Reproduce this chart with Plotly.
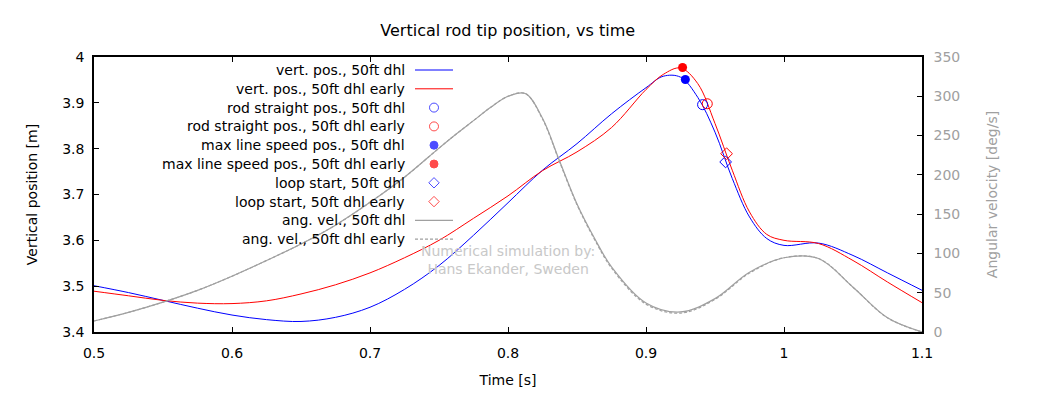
import plotly.graph_objects as go

# ---------------- data ----------------
t_pos = [0.500, 0.525, 0.550, 0.575, 0.600, 0.625, 0.650, 0.675, 0.700, 0.725, 0.750, 0.775,
         0.800, 0.825, 0.850, 0.875, 0.900, 0.9125, 0.925, 0.9375, 0.950, 0.9625, 0.975,
         0.9875, 1.000, 1.025, 1.050, 1.075, 1.100]
y_blue = [3.501, 3.486, 3.469, 3.452, 3.437, 3.427, 3.423, 3.432, 3.454, 3.493, 3.545, 3.611,
          3.682, 3.753, 3.811, 3.876, 3.933, 3.958, 3.956, 3.912, 3.836, 3.735, 3.651,
          3.604, 3.589, 3.594, 3.567, 3.529, 3.491]
y_red = [3.489, 3.479, 3.469, 3.463, 3.462, 3.468, 3.483, 3.503, 3.529, 3.562, 3.600, 3.648,
         3.697, 3.752, 3.793, 3.846, 3.929, 3.962, 3.976, 3.942, 3.855, 3.753, 3.662,
         3.613, 3.600, 3.593, 3.556, 3.509, 3.464]

t_ang = [0.500, 0.525, 0.550, 0.575, 0.600, 0.625, 0.650, 0.675, 0.700, 0.725, 0.750, 0.7625,
         0.775, 0.7875, 0.800, 0.8125, 0.825, 0.8375, 0.850, 0.8625, 0.875, 0.900, 0.925, 0.950,
         0.975, 1.000, 1.025, 1.050, 1.075, 1.100]
ang_blue = [14, 25, 38, 53, 71, 91, 112, 136, 165, 197, 234, 252,
            269, 286, 300, 303.5, 272, 217, 163, 120, 83, 37, 25.5, 42.5,
            76, 94.5, 93.5, 57, 18, 0]
ang_red = [14, 25, 38, 53, 71, 91, 112, 136, 165, 197, 234, 252,
           269, 286, 300, 303.5, 271, 216, 162, 118.5, 81.5, 35.5, 24, 41.5,
           75, 94.5, 93.5, 57, 18, 0]

rod_straight_t = [0.941, 0.9444]
rod_straight_y = [3.896, 3.898]
max_speed_t = [0.9285, 0.9265]
max_speed_y = [3.951, 3.977]
loop_start_t = [0.9577, 0.9584]
loop_start_y = [3.771, 3.789]

legend_labels = ["vert. pos., 50ft dhl", "vert. pos., 50ft dhl early",
                 "rod straight pos., 50ft dhl", "rod straight pos., 50ft dhl early",
                 "max line speed pos., 50ft dhl", "max line speed pos., 50ft dhl early",
                 "loop start, 50ft dhl", "loop start, 50ft dhl early",
                 "ang. vel., 50ft dhl", "ang. vel., 50ft dhl early"]

x_ticks = [0.5, 0.6, 0.7, 0.8, 0.9, 1.0, 1.1]
x_ticklabels = ["0.5", "0.6", "0.7", "0.8", "0.9", "1", "1.1"]
y_ticks = [3.4, 3.5, 3.6, 3.7, 3.8, 3.9, 4.0]
y_ticklabels = ["3.4", "3.5", "3.6", "3.7", "3.8", "3.9", "4"]
y2_ticks = [0, 50, 100, 150, 200, 250, 300, 350]

# ---------------- style ----------------
BLUE = "#0000ff"
RED = "#ff0000"
GRAY = "#a0a0a0"
FONT = "DejaVu Sans"
OFF = 8  # page body margin
W, H = 1039 - OFF, 394 - OFF
L, R, T, B = 86, 117, 49, 62
PW, PH = W - L - R, H - T - B
PLOT_LEFT_PAGE = L + OFF
PLOT_BOTTOM_PAGE = H - B + OFF


def fx(px):
    return (px - PLOT_LEFT_PAGE) / PW


def fy(py):
    return (PLOT_BOTTOM_PAGE - py) / PH


SPL = dict(shape="spline", smoothing=1.0)

fig = go.Figure()

fig.add_trace(go.Scatter(x=t_pos, y=y_blue, mode="lines", line=dict(color=BLUE, width=1, **SPL), showlegend=False))
fig.add_trace(go.Scatter(x=t_pos, y=y_red, mode="lines", line=dict(color=RED, width=1, **SPL), showlegend=False))

colors = [BLUE, RED]
for i in range(2):
    fig.add_trace(go.Scatter(x=[rod_straight_t[i]], y=[rod_straight_y[i]], mode="markers",
                             marker=dict(symbol="circle-open", size=10, color=colors[i], line=dict(width=1)), showlegend=False))
for i in range(2):
    fig.add_trace(go.Scatter(x=[max_speed_t[i]], y=[max_speed_y[i]], mode="markers",
                             marker=dict(symbol="circle", size=9, color=colors[i]), showlegend=False))
for i in range(2):
    fig.add_trace(go.Scatter(x=[loop_start_t[i]], y=[loop_start_y[i]], mode="markers",
                             marker=dict(symbol="diamond-open", size=9, color=colors[i], line=dict(width=1)), showlegend=False))

fig.add_trace(go.Scatter(x=t_ang, y=ang_blue, mode="lines", yaxis="y2",
                         line=dict(color=GRAY, width=1.2, **SPL), showlegend=False))
fig.add_trace(go.Scatter(x=t_ang, y=ang_red, mode="lines", yaxis="y2",
                         line=dict(color=GRAY, width=1.2, dash="3px,2px", **SPL), showlegend=False))

# ---------------- manual key (gnuplot style: text right-aligned, sample on the right) ----------------
annotations = []
shapes = []
row0, step = 70, 18.8
text_right = 406.7
sample_x0, sample_x1, sample_mid = 415, 453, 434
key_mark_x, key_mark_y, key_mark_sym, key_mark_col, key_mark_size = [], [], [], [], []
for i, lab in enumerate(legend_labels):
    py = row0 + i * step
    annotations.append(dict(xref="paper", yref="paper", x=fx(text_right), y=fy(py), xanchor="right", yanchor="middle",
                            text=lab, showarrow=False, font=dict(family=FONT, size=14, color="black")))
    col = BLUE if i % 2 == 0 else RED
    if i in (0, 1):
        shapes.append(dict(type="line", xref="paper", yref="paper", x0=fx(sample_x0), x1=fx(sample_x1), y0=fy(py), y1=fy(py),
                           line=dict(color=col, width=1)))
    elif i in (8, 9):
        shapes.append(dict(type="line", xref="paper", yref="paper", x0=fx(sample_x0), x1=fx(sample_x1), y0=fy(py), y1=fy(py),
                           line=dict(color=GRAY, width=1.2, dash="solid" if i == 8 else "3px,2px")))
    else:
        sym = {2: "circle-open", 3: "circle-open", 4: "circle", 5: "circle", 6: "diamond-open", 7: "diamond-open"}[i]
        key_mark_x.append(fx(sample_mid))
        key_mark_y.append(fy(py))
        key_mark_sym.append(sym)
        key_mark_col.append(col)
        key_mark_size.append(9 if sym == "circle-open" else 8)

fig.add_trace(go.Scatter(x=key_mark_x, y=key_mark_y, xaxis="x3", yaxis="y3", mode="markers",
                         marker=dict(symbol=key_mark_sym, color=key_mark_col, size=key_mark_size, line=dict(width=1, color=key_mark_col)),
                         showlegend=False, hoverinfo="skip"))

annotations.append(dict(xref="paper", yref="paper", x=fx(507.5), y=fy(260.3), xanchor="center", yanchor="middle",
                        text="Numerical simulation by:<br>Hans Ekander, Sweden", showarrow=False, align="center",
                        font=dict(family=FONT, size=14, color="#c8c8c8")))

fig.update_layout(
    width=W, height=H,
    margin=dict(l=L, r=R, t=T, b=B, pad=0),
    paper_bgcolor="white", plot_bgcolor="white",
    font=dict(family=FONT, size=14, color="black"),
    title=dict(text="Vertical rod tip position, vs time", x=(507.7 - OFF) / W, xanchor="center",
               y=1 - (30 - OFF) / H, yanchor="middle", font=dict(family=FONT, size=16, color="black")),
    showlegend=False,
    xaxis=dict(range=[0.5, 1.1], tickvals=x_ticks, ticktext=x_ticklabels, ticks="inside", ticklen=5,
               tickcolor="black", showline=True, linecolor="black", linewidth=1.5, mirror="ticks",
               showgrid=False, zeroline=False, tickfont=dict(family=FONT, size=14, color="black"),
               ticklabelstandoff=7, automargin=False,
               title=dict(text="Time [s]", font=dict(family=FONT, size=14, color="black"), standoff=16)),
    yaxis=dict(range=[3.4, 4.0], tickvals=y_ticks, ticktext=y_ticklabels, ticks="inside", ticklen=5,
               tickcolor="black", showline=True, linecolor="black", linewidth=1.5, mirror=False,
               showgrid=False, zeroline=False, tickfont=dict(family=FONT, size=14, color="black"),
               ticklabelstandoff=5, automargin=False,
               title=dict(text="Vertical position [m]", font=dict(family=FONT, size=14, color="black"), standoff=21)),
    yaxis2=dict(range=[0, 350], tickvals=y2_ticks, overlaying="y", side="right", ticks="inside", ticklen=5,
                tickcolor="black", showline=True, linecolor="black", linewidth=1.5,
                showgrid=False, zeroline=False, tickfont=dict(family=FONT, size=14, color=GRAY),
                ticklabelstandoff=7, automargin=False,
                title=dict(text="Angular velocity [deg/s]", font=dict(family=FONT, size=14, color=GRAY), standoff=28)),
    xaxis3=dict(range=[0, 1], overlaying="x", visible=False, anchor="y3"),
    yaxis3=dict(range=[0, 1], overlaying="y", visible=False, anchor="x3"),
    annotations=annotations,
    shapes=shapes,
)

fig.write_html("out.html")
